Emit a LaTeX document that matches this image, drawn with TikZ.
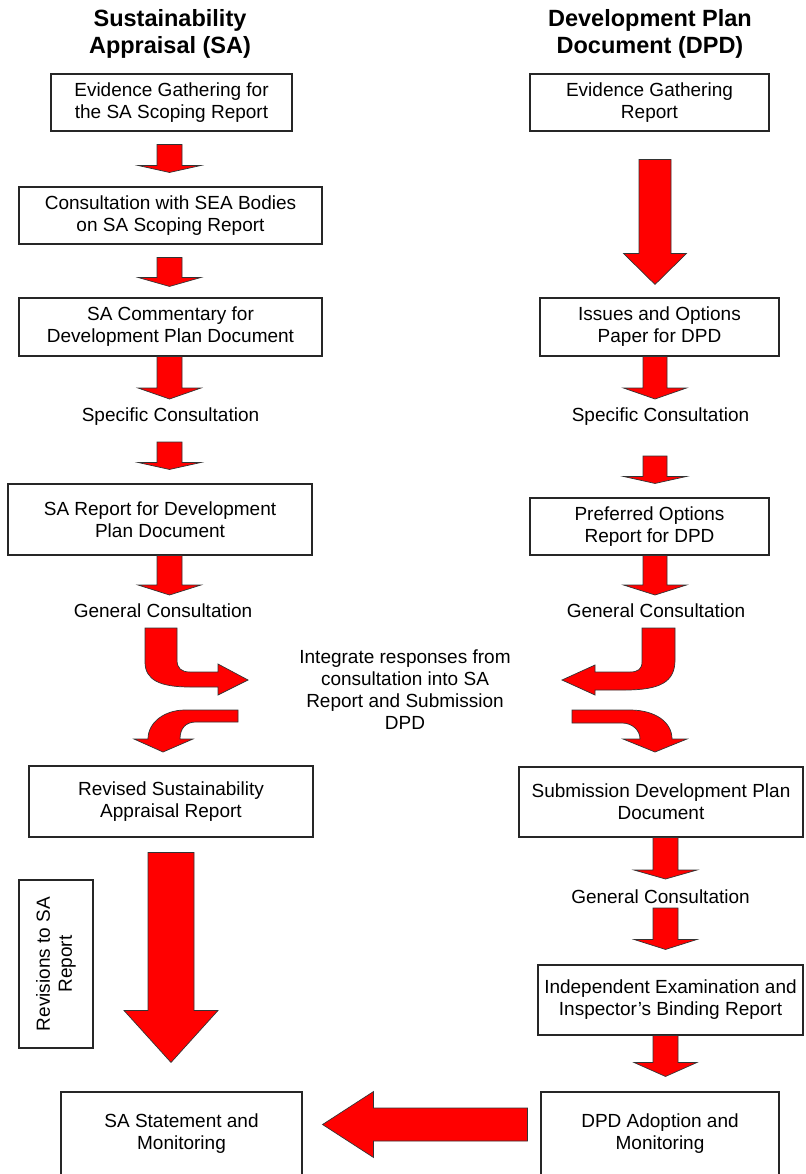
\documentclass[tikz,border=0pt]{standalone}
\usepackage{fontspec}
\setmainfont{Liberation Sans}
\usetikzlibrary{calc}

\tikzset{
  box/.style={draw=black!85,line width=1.1pt,align=center,inner sep=0pt,
    font=\fontsize{19}{22}\selectfont},
  plain/.style={align=center,inner sep=0pt,font=\fontsize{19}{22}\selectfont},
  heading/.style={align=center,inner sep=0pt,font=\bfseries\fontsize{23.5}{27}\selectfont},
  fatarrow/.style={fill=red,draw=black!80,line width=0.7pt,line join=miter}
}

% block arrow pointing down: from, to, half shaft, half head, head length
\newcommand\fatdown[5]{%
  \filldraw[fatarrow] let \p1=#1, \p2=#2 in
    (\x1-#3,\y1) -- (\x1-#3,\y2+#5) -- (\x1-#4,\y2+#5) -- (\x1,\y2)
    -- (\x1+#4,\y2+#5) -- (\x1+#3,\y2+#5) -- (\x1+#3,\y1) -- cycle;}
% block arrow pointing left
\newcommand\fatleft[5]{%
  \filldraw[fatarrow] let \p1=#1, \p2=#2 in
    (\x1,\y1+#3) -- (\x2+#5,\y1+#3) -- (\x2+#5,\y1+#4) -- (\x2,\y1)
    -- (\x2+#5,\y1-#4) -- (\x2+#5,\y1-#3) -- (\x1,\y1-#3) -- cycle;}

\begin{document}
\begin{tikzpicture}[x=1pt,y=-1pt]
  \path[use as bounding box,fill=white] (0,0) rectangle (805,1174);

  % headings
  \node[heading] (headSA) at (170,34) {Sustainability\\Appraisal (SA)};
  \node[heading] (headDPD) at (650,34) {Development Plan\\Document (DPD)};

  % SA column
  \begin{scope}[every node/.style={box}]
    \node[minimum width=241pt,minimum height=57pt] (saA) at (171.5,102.5) {Evidence Gathering for\\the SA Scoping Report};
    \node[minimum width=303pt,minimum height=57pt] (saB) at (170.5,215.5) {Consultation with SEA Bodies\\on SA Scoping Report};
    \node[minimum width=303pt,minimum height=58pt] (saC) at (170.5,327) {SA Commentary for\\Development Plan Document};
    \node[minimum width=304pt,minimum height=71pt] (saD) at (160,519.5) {SA Report for Development\\Plan Document};
    \node[minimum width=284pt,minimum height=71pt] (saE) at (171,801.5) {Revised Sustainability\\Appraisal Report};
    \node[minimum width=241pt,minimum height=84pt] (saF) at (181.5,1134) {SA Statement and\\Monitoring};
    \node[rotate=90,minimum width=168pt,minimum height=74pt] (saRev) at (56,964) {Revisions to SA\\Report};
  \end{scope}

  % DPD column
  \begin{scope}[every node/.style={box}]
    \node[minimum width=239pt,minimum height=57pt] (dpdA) at (649.5,102.5) {Evidence Gathering\\Report};
    \node[minimum width=239pt,minimum height=58pt] (dpdB) at (659.5,327) {Issues and Options\\Paper for DPD};
    \node[minimum width=239pt,minimum height=57pt] (dpdC) at (649.5,526.5) {Preferred Options\\Report for DPD};
    \node[minimum width=284pt,minimum height=70pt] (dpdD) at (661,802) {Submission Development Plan\\Document};
    \node[minimum width=265pt,minimum height=70pt] (dpdE) at (670.5,1000) {Independent Examination and\\Inspector’s Binding Report};
    \node[minimum width=238pt,minimum height=84pt] (dpdF) at (660,1134) {DPD Adoption and\\Monitoring};
  \end{scope}

  % consultation labels
  \begin{scope}[every node/.style={plain}]
    \node (specL) at (170.5,417) {Specific Consultation};
    \node (specR) at (660.5,417) {Specific Consultation};
    \node (genL) at (163,611) {General Consultation};
    \node (genR) at (656,611) {General Consultation};
    \node (genM) at (660.5,897) {General Consultation};
    \node (merge) at (405,690) {Integrate responses from\\consultation into SA\\Report and Submission\\DPD};
  \end{scope}

  \coordinate (colL) at (169.5,0);
  \coordinate (colR) at (655,0);
  \coordinate (colM) at (665.5,0);
  \coordinate (colE) at (171,0);
  \coordinate (rowF) at (0,1124.5);

  % SA arrows
  \fatdown{($(colL|-saA.south)+(0,13)$)}{($(colL|-saB.north)+(0,-14)$)}{12.5pt}{31.5pt}{7pt}
  \fatdown{($(colL|-saB.south)+(0,13)$)}{($(colL|-saC.north)+(0,-11)$)}{12.5pt}{31.5pt}{9pt}
  \fatdown{(colL|-saC.south)}{($(colL|-specL)+(0,-18)$)}{12.5pt}{31.5pt}{11pt}
  \fatdown{($(colL|-specL)+(0,25)$)}{($(colL|-saD.north)+(0,-14)$)}{12.5pt}{31.5pt}{7pt}
  \fatdown{(colL|-saD.south)}{($(colL|-genL)+(0,-16)$)}{12.5pt}{31.5pt}{10pt}
  \fatdown{($(colE|-saE.south)+(0,15)$)}{($(colE|-saF.north)+(0,-29)$)}{23pt}{47pt}{52pt}

  % DPD arrows
  \fatdown{($(colR|-dpdA.south)+(0,28)$)}{($(colR|-dpdB.north)+(0,-13)$)}{16pt}{31.5pt}{31pt}
  \fatdown{(colR|-dpdB.south)}{($(colR|-specR)+(0,-18)$)}{12pt}{31.5pt}{11pt}
  \fatdown{($(colR|-specR)+(0,39)$)}{($(colR|-dpdC.north)+(0,-14)$)}{12pt}{31.5pt}{7pt}
  \fatdown{(colR|-dpdC.south)}{($(colR|-genR)+(0,-16)$)}{12pt}{31.5pt}{10pt}
  \fatdown{(colM|-dpdD.south)}{($(colM|-genM)+(0,-18)$)}{12.5pt}{31.5pt}{9pt}
  \fatdown{($(colM|-genM)+(0,11)$)}{($(colM|-dpdE.north)+(0,-15)$)}{12.5pt}{31.5pt}{10pt}
  \fatdown{(colM|-dpdE.south)}{($(colM|-dpdF.north)+(0,-15)$)}{12.5pt}{31.5pt}{14pt}

  % adoption feeds the SA statement
  \fatleft{($(dpdF.west|-rowF)+(-13,0)$)}{($(saF.east|-rowF)+(20,0)$)}{16.5pt}{33pt}{51pt}

  % curved arrows round the merge text
  \filldraw[fatarrow] (145,628) -- (145,662) .. controls (145,680) and (160,687) .. (190,687)
    -- (218,687) -- (218,695) -- (248,680) -- (218,664) -- (218,672) -- (190,672)
    .. controls (181,672) and (177,668) .. (177,660) -- (177,628) -- cycle;
  \filldraw[fatarrow] (238,710) -- (185,710) .. controls (165,710) and (148,722) .. (148,739)
    -- (134,739) -- (163,752) -- (193,739) -- (180,739)
    .. controls (180,728) and (186,722) .. (196,722) -- (238,722) -- cycle;
  \filldraw[fatarrow] (642,628) -- (642,662) .. controls (642,669) and (638,672) .. (630,672)
    -- (595,672) -- (595,665) -- (562,680) -- (595,695) -- (595,690) -- (625,690)
    .. controls (660,690) and (675,682) .. (675,660) -- (675,628) -- cycle;
  \filldraw[fatarrow] (572,710) -- (630,710) .. controls (655,710) and (672,722) .. (672,739)
    -- (687,739) -- (655,752) -- (623,739) -- (640,739)
    .. controls (640,730) and (632,723) .. (622,723) -- (572,723) -- cycle;
\end{tikzpicture}
\end{document}
